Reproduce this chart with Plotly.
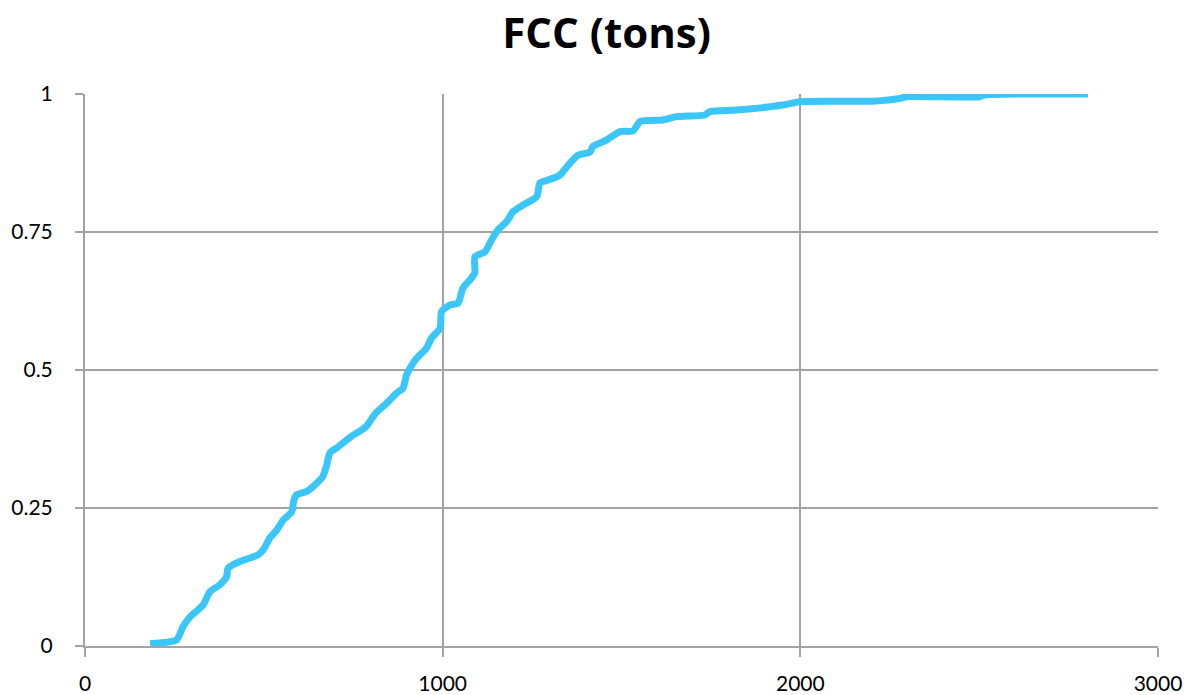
import plotly.graph_objects as go

title_text = "FCC (tons)"
fcc_tons = [182, 256, 274, 294, 330, 349, 377, 396, 400, 433, 484, 498, 517, 536, 554, 578, 584, 592,
            620, 643, 665, 676, 685, 704, 743, 785, 813, 844, 871, 889, 899, 923, 955, 969, 993, 997,
            1021, 1043, 1057, 1076, 1090, 1090, 1118, 1137, 1155, 1179, 1197, 1225, 1263, 1272, 1294,
            1328, 1347, 1378, 1412, 1420, 1459, 1496, 1532, 1552, 1616, 1654, 1733, 1747, 1822, 1951,
            1999, 2203, 2279, 2297, 2502, 2511, 2804]
cum_prob = [0.004, 0.011, 0.035, 0.053, 0.074, 0.098, 0.111, 0.126, 0.141, 0.153, 0.165, 0.174, 0.196,
            0.210, 0.228, 0.243, 0.264, 0.274, 0.280, 0.292, 0.307, 0.328, 0.350, 0.359, 0.379, 0.397,
            0.422, 0.440, 0.458, 0.467, 0.491, 0.518, 0.540, 0.558, 0.576, 0.606, 0.618, 0.621, 0.649,
            0.663, 0.676, 0.705, 0.714, 0.736, 0.754, 0.769, 0.787, 0.799, 0.814, 0.839, 0.844, 0.853,
            0.868, 0.889, 0.895, 0.905, 0.917, 0.932, 0.933, 0.950, 0.953, 0.959, 0.962, 0.968, 0.971,
            0.980, 0.986, 0.987, 0.992, 0.995, 0.995, 0.998, 1.0]

x_ticks = [0, 1000, 2000, 3000]
x_tick_labels = ["0", "1000", "2000", "3000"]
y_ticks = [0, 0.25, 0.5, 0.75, 1]
y_tick_labels = ["0", "0.25", "0.5", "0.75", "1"]

grid = "#a3a3a3"
fig = go.Figure()
fig.add_trace(go.Scatter(x=fcc_tons, y=cum_prob, mode="lines",
                         line=dict(color="#3AC6F8", width=7, shape="spline", smoothing=0.6),
                         showlegend=False, hoverinfo="x+y"))

fig.update_layout(
    width=1187, height=695,
    margin=dict(l=85, r=29, t=94, b=49),
    paper_bgcolor="white", plot_bgcolor="white",
    font=dict(family="Lato, Open Sans, sans-serif", color="black"),
    title=dict(text="<b>" + title_text + "</b>", x=0.511, xanchor="center", y=0.952, yanchor="middle",
               font=dict(size=42, family="Open Sans, Lato, sans-serif", color="black")),
)
fig.update_xaxes(range=[0, 3000], tickvals=x_ticks, ticktext=x_tick_labels, automargin=False,
                 showgrid=True, gridcolor=grid, gridwidth=2,
                 showline=True, linecolor=grid, linewidth=2, zeroline=False,
                 ticks="outside", ticklen=9, tickcolor=grid, tickwidth=2,
                 ticklabelstandoff=9, tickfont=dict(size=21))
fig.update_yaxes(range=[0, 1], tickvals=y_ticks, ticktext=y_tick_labels, automargin=False,
                 showgrid=True, gridcolor=grid, gridwidth=2,
                 showline=True, linecolor=grid, linewidth=2, zeroline=False,
                 ticks="outside", ticklen=8, tickcolor=grid, tickwidth=2,
                 ticklabelstandoff=18, tickfont=dict(size=21))

fig.write_html("out.html", config={"displayModeBar": False},
               post_script="document.body.style.margin='0';document.body.style.padding='0';window.dispatchEvent(new Event('resize'));")
